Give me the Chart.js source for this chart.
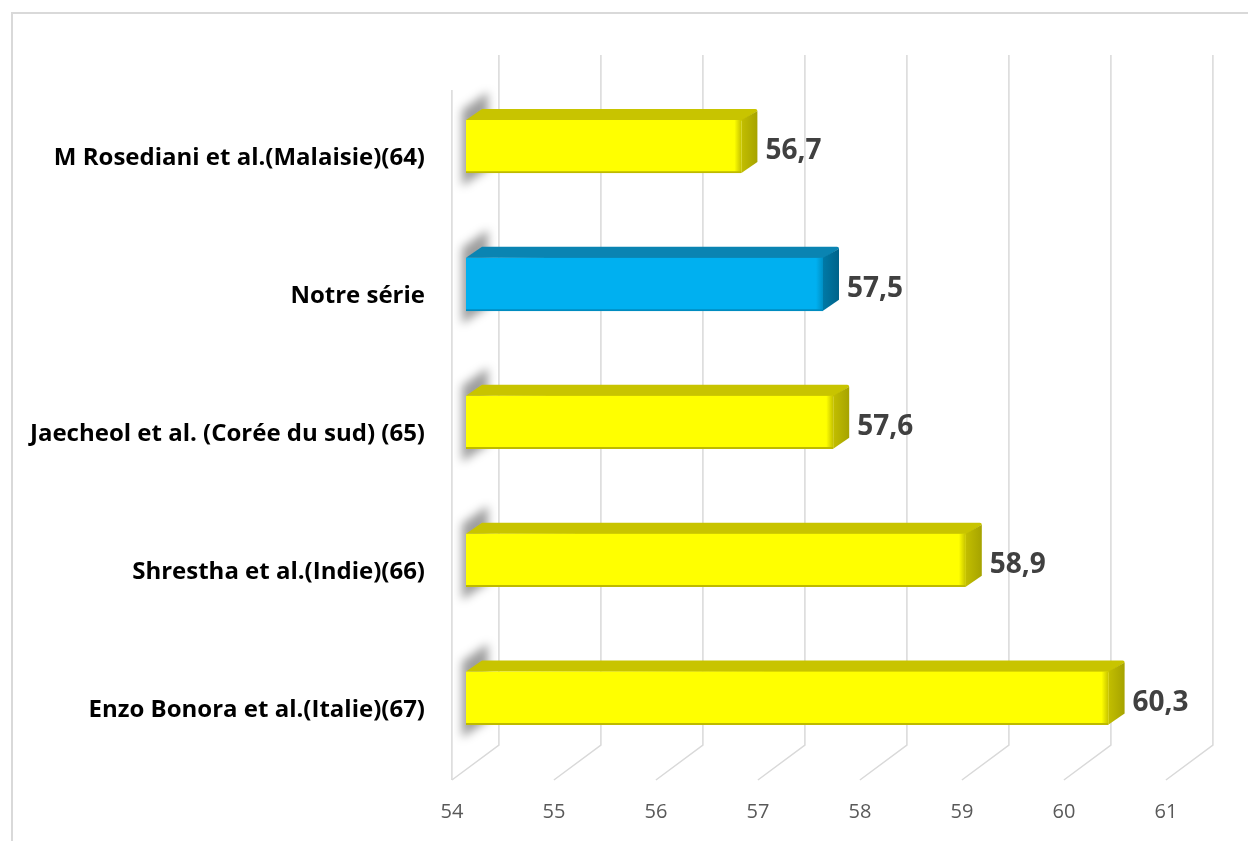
<!DOCTYPE html>
<html>
<head>
<meta charset="utf-8">
<script src="https://cdn.jsdelivr.net/npm/chart.js@4/dist/chart.umd.min.js"></script>
<style>
  html, body { margin: 0; padding: 0; background: #ffffff; }
  #wrap { position: relative; width: 1248px; height: 841px; }
</style>
</head>
<body>
<div id="wrap"><canvas id="c" width="1248" height="841"></canvas></div>
<script>
// Study names (top to bottom) and their values
const categories = [
  'M Rosediani et al.(Malaisie)(64)',
  'Notre série',
  'Jaecheol et al. (Corée du sud) (65)',
  'Shrestha et al.(Indie)(66)',
  'Enzo Bonora et al.(Italie)(67)'
];
const values = [56.7, 57.5, 57.6, 58.9, 60.3];
const axisMin = 54;
const axisMax = 61;
const highlighted = 'Notre série';

// Face colours for the pseudo-3D bars
const palette = {
  normal:    { front: '#FFFF00', top: '#C8C400', side: ['#C2BE00', '#A6A300'], edge: [190, 186, 0] },
  highlight: { front: '#00B0F0', top: '#0A84B2', side: ['#0079A6', '#00638A'], edge: [0, 140, 192] }
};
const styleFor = i => categories[i] === highlighted ? palette.highlight : palette.normal;
const rgba = (c, a) => `rgba(${c[0]},${c[1]},${c[2]},${a})`;

// Depth geometry: bars sit 30% into the box depth
const DEPTH_X = 47, DEPTH_Y = -35, BAR_PLANE = 0.3;
const BAR_DX = 16, BAR_DY = -11;
const backOff  = { x: DEPTH_X * (1 - BAR_PLANE), y: DEPTH_Y * (1 - BAR_PLANE) };
const frontOff = { x: -DEPTH_X * BAR_PLANE, y: -DEPTH_Y * BAR_PLANE };
const GRID = '#D9D9D9';

const fmt = v => v.toFixed(1).replace('.', ',');

const frame3d = {
  id: 'frame3d',
  beforeDraw(chart) {
    const ctx = chart.ctx;
    ctx.save();
    ctx.strokeStyle = GRID;
    ctx.lineWidth = 2;
    ctx.strokeRect(12, 13, 1400, 1000);
    ctx.restore();
  },
  beforeDatasetsDraw(chart) {
    const ctx = chart.ctx;
    const xs = chart.scales.x;
    const area = chart.chartArea;
    const floorY = area.bottom + 2.5;
    const wallTop = area.top - 22.5;
    const px0 = xs.getPixelForValue(axisMin);
    ctx.save();
    ctx.strokeStyle = GRID;
    ctx.lineWidth = 1.5;
    // back wall gridlines and floor lines
    for (let v = axisMin; v <= axisMax; v++) {
      const px = xs.getPixelForValue(v);
      ctx.beginPath();
      ctx.moveTo(px + backOff.x, wallTop);
      ctx.lineTo(px + backOff.x, floorY + backOff.y);
      ctx.lineTo(px + frontOff.x, floorY + frontOff.y);
      ctx.stroke();
    }
    // left wall front edge
    ctx.beginPath();
    ctx.moveTo(px0 + frontOff.x, wallTop - DEPTH_Y);
    ctx.lineTo(px0 + frontOff.x, floorY + frontOff.y);
    ctx.stroke();
    ctx.restore();

    const meta = chart.getDatasetMeta(0);
    // soft shadows cast on the left wall
    ctx.save();
    ctx.beginPath();
    ctx.rect(px0 + frontOff.x + 2, 0, DEPTH_X - 4, chart.height);
    ctx.clip();
    ctx.filter = 'blur(5px)';
    ctx.fillStyle = 'rgba(0,0,0,0.38)';
    meta.data.forEach(bar => {
      const T = bar.y - bar.height / 2, B = bar.y + bar.height / 2;
      ctx.beginPath();
      ctx.moveTo(px0 - 4, T - 10);
      ctx.lineTo(px0 + 22, T - 28);
      ctx.lineTo(px0 + 22, B - 4);
      ctx.lineTo(px0 - 4, B + 13);
      ctx.closePath();
      ctx.fill();
    });
    ctx.restore();

    // top and side faces
    ctx.save();
    meta.data.forEach((bar, i) => {
      const s = styleFor(i);
      const T = bar.y - bar.height / 2, B = bar.y + bar.height / 2;
      const x0 = px0, x1 = bar.x;
      ctx.fillStyle = s.top;
      ctx.beginPath();
      ctx.moveTo(x0, T);
      ctx.lineTo(x0 + BAR_DX, T + BAR_DY);
      ctx.lineTo(x1 + BAR_DX - 2, T + BAR_DY);
      ctx.quadraticCurveTo(x1 + BAR_DX, T + BAR_DY, x1 + BAR_DX, T + BAR_DY + 2);
      ctx.lineTo(x1, T + 1);
      ctx.closePath();
      ctx.fill();
      const g = ctx.createLinearGradient(x1, 0, x1 + BAR_DX, 0);
      g.addColorStop(0, s.side[0]);
      g.addColorStop(1, s.side[1]);
      ctx.fillStyle = g;
      ctx.beginPath();
      ctx.moveTo(x1, T);
      ctx.lineTo(x1 + BAR_DX, T + BAR_DY + 2);
      ctx.lineTo(x1 + BAR_DX, B + BAR_DY);
      ctx.lineTo(x1, B);
      ctx.closePath();
      ctx.fill();
    });
    ctx.restore();
  },
  afterDatasetsDraw(chart) {
    const ctx = chart.ctx;
    const meta = chart.getDatasetMeta(0);
    ctx.save();
    meta.data.forEach((bar, i) => {
      const s = styleFor(i);
      // rounded bevel on the right end of the front face
      const T = bar.y - bar.height / 2, B = bar.y + bar.height / 2;
      const g = ctx.createLinearGradient(bar.x - 7, 0, bar.x, 0);
      g.addColorStop(0, rgba(s.edge, 0));
      g.addColorStop(1, rgba(s.edge, 0.9));
      ctx.fillStyle = g;
      ctx.fillRect(bar.x - 7, T, 7, B - T);
      // value label
      ctx.fillStyle = '#404040';
      ctx.font = 'bold 28px "Open Sans"';
      ctx.textAlign = 'left';
      ctx.textBaseline = 'middle';
      ctx.fillText(fmt(values[i]), bar.x + 24, bar.y + 5);
    });
    ctx.restore();
  }
};

new Chart(document.getElementById('c'), {
  type: 'bar',
  data: {
    labels: categories,
    datasets: [{
      data: values,
      backgroundColor: categories.map((_, i) => styleFor(i).front),
      borderColor: categories.map((_, i) => rgba(styleFor(i).edge, 1)),
      borderWidth: { top: 0, right: 0, bottom: 2, left: 0 },
      borderSkipped: false,
      barThickness: 53
    }]
  },
  options: {
    indexAxis: 'y',
    responsive: false,
    animation: false,
    events: [],
    layout: { padding: { top: 77.5, right: 68, left: 0, bottom: 0 } },
    plugins: { legend: { display: false }, tooltip: { enabled: false } },
    scales: {
      x: {
        type: 'linear',
        min: axisMin,
        max: axisMax,
        ticks: {
          stepSize: 1,
          color: '#595959',
          font: { family: 'Open Sans', size: 20 },
          padding: 25,
          labelOffset: -14
        },
        grid: { display: false },
        border: { display: false },
        afterFit(scale) { scale.height = 74; }
      },
      y: {
        type: 'category',
        ticks: {
          color: '#000000',
          font: { family: 'Open Sans', size: 24, weight: 'bold' },
          padding: 33,
          labelOffset: 12
        },
        grid: { display: false },
        border: { display: false },
        afterFit(scale) { scale.width = 466; }
      }
    }
  },
  plugins: [frame3d]
});
</script>
</body>
</html>
